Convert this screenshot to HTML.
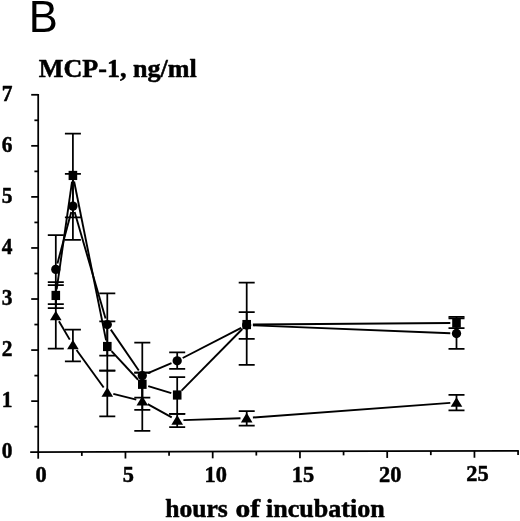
<!DOCTYPE html>
<html><head><meta charset="utf-8"><title>B</title>
<style>html,body{margin:0;padding:0;background:#fff}svg{display:block}text{font-family:"Liberation Serif",serif;font-weight:bold;fill:#000;stroke:#000;stroke-width:0.5px;stroke-linejoin:round}</style></head><body>
<svg width="520" height="521" viewBox="0 0 520 521">
<rect width="520" height="521" fill="#fff"/>
<text x="28.7" y="31.5" style="font-family:'Liberation Sans',sans-serif;font-weight:normal;stroke:none" font-size="43.5">B</text>
<text x="38.8" y="77.4" font-size="24.6" textLength="158" lengthAdjust="spacingAndGlyphs">MCP-1, ng/ml</text>
<text y="517.3" font-size="24.5"><tspan x="165.2" textLength="62.6" lengthAdjust="spacingAndGlyphs">hours</tspan> <tspan x="235.6" textLength="24.6" lengthAdjust="spacingAndGlyphs">of</tspan> <tspan x="266" textLength="118.8" lengthAdjust="spacingAndGlyphs">incubation</tspan></text>
<g stroke="#000" stroke-width="1.75" fill="none" stroke-linecap="butt">
<path d="M38.2 93.97999999999998V452.2"/>
<path d="M30.200000000000003 452.0L518.8 450.9"/>
<path d="M34.400000000000006 426.67H38.2"/>
<path d="M31.200000000000003 401.14H38.2"/>
<path d="M34.400000000000006 375.61H38.2"/>
<path d="M31.200000000000003 350.08H38.2"/>
<path d="M34.400000000000006 324.55H38.2"/>
<path d="M31.200000000000003 299.02H38.2"/>
<path d="M34.400000000000006 273.49H38.2"/>
<path d="M31.200000000000003 247.96H38.2"/>
<path d="M34.400000000000006 222.43H38.2"/>
<path d="M31.200000000000003 196.90H38.2"/>
<path d="M34.400000000000006 171.37H38.2"/>
<path d="M31.200000000000003 145.84H38.2"/>
<path d="M34.400000000000006 120.31H38.2"/>
<path d="M31.200000000000003 94.78H38.2"/>
<path d="M38.20 451.82V458.72"/>
<path d="M81.83 451.72V455.92"/>
<path d="M125.45 451.62V458.52"/>
<path d="M169.07 451.53V455.73"/>
<path d="M212.70 451.43V458.33"/>
<path d="M256.32 451.34V455.54"/>
<path d="M299.95 451.24V458.14"/>
<path d="M343.57 451.14V455.34"/>
<path d="M387.20 451.05V457.95"/>
<path d="M430.82 450.95V455.15"/>
<path d="M474.45 450.86V457.76"/>
<path d="M518.08 450.76V454.96"/>
</g>
<text x="1.7" y="458.4" font-size="23" textLength="10.7" lengthAdjust="spacingAndGlyphs">0</text>
<text x="1.7" y="407.3" font-size="23" textLength="10.7" lengthAdjust="spacingAndGlyphs">1</text>
<text x="1.7" y="356.3" font-size="23" textLength="10.7" lengthAdjust="spacingAndGlyphs">2</text>
<text x="1.7" y="305.2" font-size="23" textLength="10.7" lengthAdjust="spacingAndGlyphs">3</text>
<text x="1.7" y="254.2" font-size="23" textLength="10.7" lengthAdjust="spacingAndGlyphs">4</text>
<text x="1.7" y="203.1" font-size="23" textLength="10.7" lengthAdjust="spacingAndGlyphs">5</text>
<text x="1.7" y="152.0" font-size="23" textLength="10.7" lengthAdjust="spacingAndGlyphs">6</text>
<text x="1.7" y="101.0" font-size="23" textLength="10.7" lengthAdjust="spacingAndGlyphs">7</text>
<text x="35.6" y="482.3" font-size="23" textLength="11.2" lengthAdjust="spacingAndGlyphs">0</text>
<text x="122.8" y="482.1" font-size="23" textLength="11.2" lengthAdjust="spacingAndGlyphs">5</text>
<text x="204.5" y="481.9" font-size="23" textLength="22.4" lengthAdjust="spacingAndGlyphs">10</text>
<text x="291.8" y="481.7" font-size="23" textLength="22.4" lengthAdjust="spacingAndGlyphs">15</text>
<text x="379.0" y="481.5" font-size="23" textLength="22.4" lengthAdjust="spacingAndGlyphs">20</text>
<text x="466.2" y="481.4" font-size="23" textLength="22.4" lengthAdjust="spacingAndGlyphs">25</text>
<g stroke="#000" stroke-width="1.75" fill="none">
<path d="M55.80 235.19V304.13M47.80 235.19h16.0M47.80 304.13h16.0"/>
<path d="M55.80 285.23V308.21M47.80 285.23h16.0M47.80 308.21h16.0"/>
<path d="M55.80 282.17V348.55M47.80 282.17h16.0M47.80 348.55h16.0"/>
<path d="M72.90 173.92V239.79M64.90 173.92h16.0M64.90 239.79h16.0"/>
<path d="M72.90 133.59V217.32M64.90 133.59h16.0M64.90 217.32h16.0"/>
<path d="M72.90 329.66V361.31M64.90 329.66h16.0M64.90 361.31h16.0"/>
<path d="M107.30 293.40V355.70M99.30 293.40h16.0M99.30 355.70h16.0"/>
<path d="M107.30 321.49V370.50M99.30 321.49h16.0M99.30 370.50h16.0"/>
<path d="M107.30 370.50V416.46M99.30 370.50h16.0M99.30 416.46h16.0"/>
<path d="M142.30 342.68V409.82M134.30 342.68h16.0M134.30 409.82h16.0"/>
<path d="M142.30 372.55V397.57M134.30 372.55h16.0M134.30 397.57h16.0"/>
<path d="M142.30 372.55V430.75M134.30 372.55h16.0M134.30 430.75h16.0"/>
<path d="M177.20 352.38V368.97M169.20 352.38h16.0M169.20 368.97h16.0"/>
<path d="M177.20 377.14V413.90M169.20 377.14h16.0M169.20 413.90h16.0"/>
<path d="M177.20 413.90V427.18M169.20 413.90h16.0M169.20 427.18h16.0"/>
<path d="M246.70 312.04V338.85M238.70 312.04h16.0M238.70 338.85h16.0"/>
<path d="M246.70 282.68V364.89M238.70 282.68h16.0M238.70 364.89h16.0"/>
<path d="M246.70 411.10V425.65M238.70 411.10h16.0M238.70 425.65h16.0"/>
<path d="M456.50 316.89V348.80M448.50 316.89h16.0M448.50 348.80h16.0"/>
<path d="M456.50 318.42V328.12M448.50 318.42h16.0M448.50 328.12h16.0"/>
<path d="M456.50 394.76V410.33M448.50 394.76h16.0M448.50 410.33h16.0"/>
</g>
<g stroke="#000" stroke-width="1.9" fill="none">
<path d="M57.42 263.42L71.28 212.08"/>
<path d="M74.63 212.04L105.57 318.60"/>
<path d="M110.81 329.66L138.79 370.50"/>
<path d="M148.01 373.19L171.49 363.22"/>
<path d="M182.71 357.97L241.19 327.90"/>
<path d="M252.90 325.31L450.30 333.24"/>
<path d="M56.67 289.31L72.03 181.59"/>
<path d="M74.12 181.53L106.08 340.43"/>
<path d="M111.51 351.05L138.09 379.74"/>
<path d="M148.23 386.11L171.27 393.19"/>
<path d="M181.55 390.60L242.35 328.96"/>
<path d="M252.90 324.50L450.30 323.06"/>
<path d="M58.94 321.22L69.76 339.63"/>
<path d="M76.54 349.99L103.66 387.44"/>
<path d="M113.32 393.95L136.28 399.65"/>
<path d="M147.74 404.12L171.76 417.31"/>
<path d="M183.40 420.08L240.50 418.19"/>
<path d="M252.88 417.53L450.32 402.88"/>
</g>
<g fill="#000">
<circle cx="55.80" cy="269.41" r="4.65"/>
<circle cx="72.90" cy="206.09" r="4.65"/>
<circle cx="107.30" cy="324.55" r="4.65"/>
<circle cx="142.30" cy="375.61" r="4.65"/>
<circle cx="177.20" cy="360.80" r="4.65"/>
<circle cx="246.70" cy="325.06" r="4.65"/>
<circle cx="456.50" cy="333.49" r="4.65"/>
<rect x="51.50" y="290.85" width="8.6" height="9.2"/>
<rect x="68.60" y="170.85" width="8.6" height="9.2"/>
<rect x="103.00" y="341.91" width="8.6" height="9.2"/>
<rect x="138.00" y="379.69" width="8.6" height="9.2"/>
<rect x="172.90" y="390.41" width="8.6" height="9.2"/>
<rect x="242.40" y="319.95" width="8.6" height="9.2"/>
<rect x="452.20" y="318.42" width="8.6" height="9.2"/>
<path d="M55.80 310.67L61.60 320.27H50.00Z"/>
<path d="M72.90 339.77L78.70 349.37H67.10Z"/>
<path d="M107.30 387.26L113.10 396.86H101.50Z"/>
<path d="M142.30 395.94L148.10 405.54H136.50Z"/>
<path d="M177.20 415.09L183.00 424.69H171.40Z"/>
<path d="M246.70 412.79L252.50 422.39H240.90Z"/>
<path d="M456.50 397.22L462.30 406.82H450.70Z"/>
</g>
</svg></body></html>
